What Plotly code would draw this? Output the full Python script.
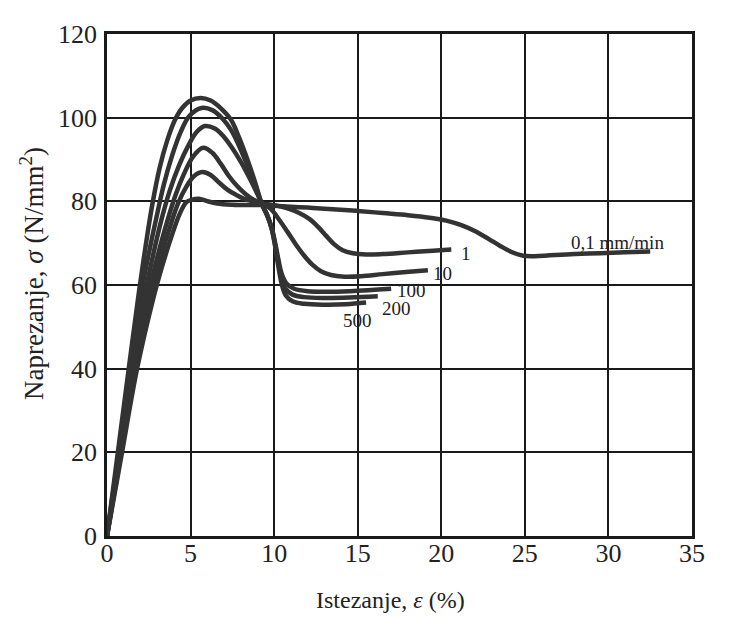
import plotly.graph_objects as go

# Strain (%) and stress (N/mm^2), per crosshead speed
x_500 = [0, 0.65, 1.3, 1.9, 2.3, 2.7, 3.15, 3.6, 4.05, 4.5, 5.0, 5.6, 6.2, 6.8, 7.4, 7.9, 8.4,
         8.85, 9.25, 9.6, 9.85, 10.05, 10.25, 10.45, 10.7, 11.1, 11.8, 13.0, 14.3, 15.5]
y_500 = [0, 20, 40, 58, 69, 79, 88, 94.5, 99.3, 102.3, 104.1, 104.7, 104.1, 102.3, 99.6, 95.3, 90,
         84.7, 79.5, 76.5, 73.5, 69.5, 64.5, 60.3, 57.5, 56.1, 55.5, 55.3, 55.4, 55.8]

x_200 = [0, 0.7, 1.4, 2.05, 2.5, 2.95, 3.4, 3.9, 4.4, 4.95, 5.65, 6.3, 6.9, 7.4, 7.9, 8.4,
         8.85, 9.25, 9.6, 9.85, 10.05, 10.25, 10.45, 10.7, 11.1, 11.8, 13.0, 14.5, 16.2]
y_200 = [0, 20, 40, 58, 67.5, 76, 84, 91, 96.5, 100.5, 102.3, 101.8, 99.8, 97.2, 93.3, 88.5,
         84, 79.5, 76.5, 73.5, 69.8, 65.2, 61.5, 59.0, 57.7, 57.1, 56.9, 57.0, 57.3]

x_100 = [0, 0.75, 1.5, 2.25, 2.75, 3.25, 3.75, 4.3, 4.85, 5.35, 5.85, 6.45, 7.0, 7.5, 8.0, 8.45,
         8.85, 9.25, 9.6, 9.85, 10.05, 10.25, 10.45, 10.75, 11.2, 12.0, 13.5, 15.3, 17.0]
y_100 = [0, 20, 40, 57.5, 67, 75.5, 82.5, 88.5, 93.2, 96.5, 98, 97.4, 95.4, 92.7, 89.5, 86.2,
         83, 79.5, 76.5, 73.7, 70.3, 66.2, 62.7, 60.3, 59.1, 58.5, 58.4, 58.7, 59.1]

x_10 = [0, 0.8, 1.6, 2.45, 3.0, 3.55, 4.1, 4.6, 5.15, 5.75, 6.3, 6.8, 7.3, 7.8, 8.3, 8.8, 9.3,
        9.8, 10.3, 10.8, 11.3, 11.8, 12.3, 12.8, 13.4, 14.2, 15.2, 16.5, 17.9, 19.2]
y_10 = [0, 20, 40, 57.5, 66.5, 74.5, 81.5, 86.5, 90.7, 92.8, 91.6, 89, 86, 83.6, 81.7, 80.3, 79.5,
        78.2, 75.6, 72.7, 69.7, 67, 64.8, 63.3, 62.4, 62.0, 62.1, 62.6, 63.1, 63.5]

x_1 = [0, 0.85, 1.7, 2.6, 3.15, 3.7, 4.25, 4.75, 5.2, 5.7, 6.2, 6.7, 7.2, 7.7, 8.2, 8.75, 9.3,
       10.0, 10.8, 11.5, 12.1, 12.6, 13.1, 13.6, 14.1, 14.7, 15.5, 16.5, 18.0, 19.5, 20.6]
y_1 = [0, 20, 40, 57, 65.5, 73, 79.5, 83.5, 86, 87, 86.3, 84.5, 82.8, 81.6, 80.6, 80, 79.5,
       79.1, 78.3, 77.2, 75.8, 74, 71.8, 69.7, 68.3, 67.6, 67.3, 67.4, 67.8, 68.2, 68.5]

x_01 = [0, 0.9, 1.8, 2.75, 3.3, 3.85, 4.35, 4.75, 5.1, 5.5, 5.95, 6.6, 7.5, 8.5, 9.3, 10.5, 12.0,
        13.5, 15.0, 16.5, 18.0, 19.3, 20.3, 21.2, 22.0, 22.8, 23.5, 24.2, 24.9, 25.6, 26.5,
        28.0, 29.5, 31.0, 32.5]
y_01 = [0, 20, 40, 56.5, 64.5, 71.5, 77, 79.8, 80.4, 80.6, 80.1, 79.5, 79.2, 79.1, 79.1, 78.8, 78.5,
        78.1, 77.7, 77.2, 76.7, 76.1, 75.4, 74.3, 72.9, 71.1, 69.4, 67.9, 67.0, 66.9, 67.1,
        67.4, 67.6, 67.8, 68.0]

label_text = ["500", "200", "100", "10", "1", "0,1 mm/min"]
label_x = [15.0, 17.35, 18.2, 20.1, 21.5, 30.55]
label_y = [51.5, 54.4, 58.6, 62.8, 67.5, 70.2]

x_ticks = [0, 5, 10, 15, 20, 25, 30, 35]
y_ticks = [0, 20, 40, 60, 80, 100, 120]

SERIF = "Liberation Serif"
LINE = "#333333"

fig = go.Figure()
for xs, ys in [(x_500, y_500), (x_200, y_200), (x_100, y_100),
               (x_10, y_10), (x_1, y_1), (x_01, y_01)]:
    fig.add_trace(go.Scatter(x=xs, y=ys, mode="lines",
                             line=dict(color=LINE, width=4.5, shape="spline", smoothing=1.0),
                             showlegend=False, hoverinfo="skip"))

for t, lx, ly in zip(label_text, label_x, label_y):
    fig.add_annotation(x=lx, y=ly, text=t, showarrow=False,
                       font=dict(family=SERIF, size=19, color="#222"))

fig.add_annotation(xref="paper", yref="paper", x=0.484, y=-0.1265,
                   text="Istezanje, <i>ε</i> (%)", showarrow=False,
                   font=dict(family=SERIF, size=24, color="#222"),
                   xanchor="center", yanchor="middle")
fig.add_annotation(xref="paper", yref="paper", x=-0.128, y=0.522,
                   text="Naprezanje, <i>σ</i> (N/mm<sup>2</sup>)", showarrow=False,
                   textangle=-90,
                   font=dict(family=SERIF, size=27, color="#222"),
                   xanchor="center", yanchor="middle")

axis_common = dict(showgrid=True, gridcolor="#1a1a1a", gridwidth=1.5,
                   showline=True, linecolor="#1a1a1a", linewidth=2.5, mirror=True,
                   zeroline=False, ticks="",
                   tickfont=dict(family=SERIF, size=26, color="#222"))

fig.update_xaxes(range=[0, 35], tickvals=x_ticks, ticklabelstandoff=-8, **axis_common)
fig.update_yaxes(range=[0, 120], tickvals=y_ticks, ticklabelstandoff=2, **axis_common)

fig.update_layout(width=733, height=626,
                  margin=dict(l=99, r=49, t=22, b=98),
                  plot_bgcolor="white", paper_bgcolor="white")

fig.write_html("out.html")
